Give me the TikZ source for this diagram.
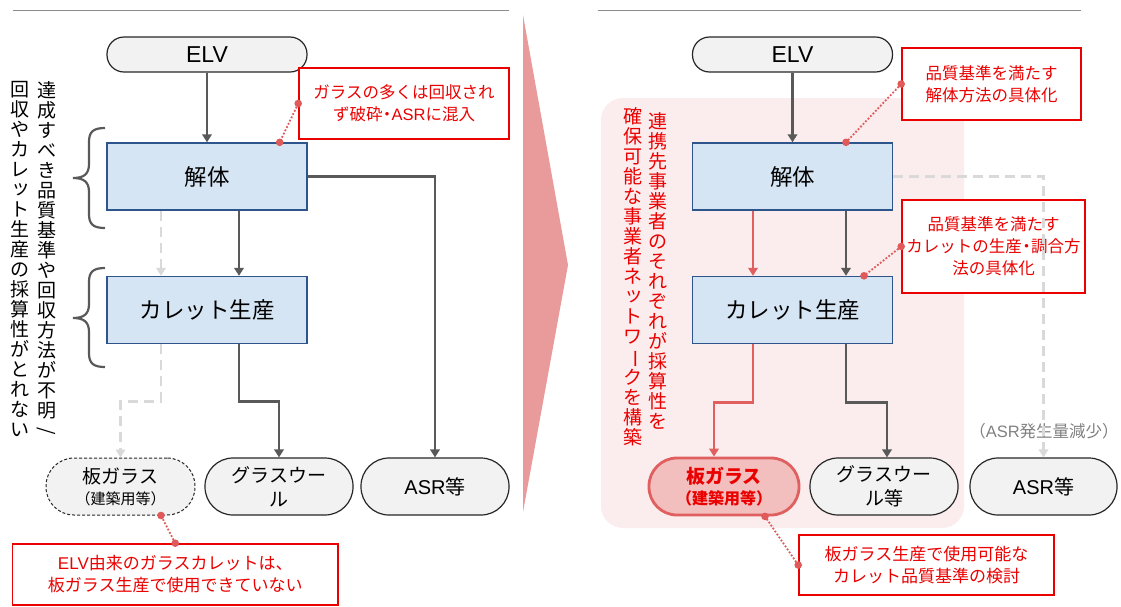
\documentclass[tikz,border=0pt]{standalone}
\usepackage{fontspec}
\setmainfont{Noto Sans CJK JP}
\newfontfamily\lat{Liberation Sans}
\usepackage{graphicx}
\usetikzlibrary{arrows.meta}

\definecolor{linegray}{RGB}{140,140,140}
\definecolor{arrowgray}{RGB}{89,89,89}
\definecolor{dashgray}{RGB}{217,217,217}
\definecolor{boxblue}{RGB}{214,229,243}
\definecolor{boxborder}{RGB}{46,84,140}
\definecolor{nodegray}{RGB}{242,242,242}
\definecolor{nodeborder}{RGB}{38,38,38}
\definecolor{callred}{RGB}{235,0,0}
\definecolor{dotred}{RGB}{224,90,90}
\definecolor{tri}{RGB}{233,155,155}
\definecolor{bgpink}{RGB}{251,236,237}
\definecolor{platefill}{RGB}{242,190,190}
\definecolor{plateborder}{RGB}{224,96,96}
\definecolor{notegray}{RGB}{128,128,128}

\newcommand{\fs}[2]{\fontsize{#1pt}{#2pt}\selectfont}
\newcommand{\vrot}[1]{\rotatebox[origin=c]{-90}{#1}}
\newcommand{\sk}[1]{\makebox[1em][c]{\hspace{0.2em}\raisebox{0.1em}{#1}}}
\newcommand{\nd}{\makebox[0.55em][c]{・}}

\begin{document}
\begin{tikzpicture}[x=1pt,y=-1pt,
  procbox/.style={draw=boxborder, fill=boxblue, line width=1.4pt, minimum width=200pt, minimum height=67pt, inner sep=0pt, font=\fs{22.5}{26}},
  startnode/.style={draw=nodeborder, fill=nodegray, line width=1.2pt, rounded corners=17pt, minimum width=200pt, minimum height=35pt, inner sep=0pt, font=\lat\fs{23}{26}},
  endnode/.style={draw=nodeborder, fill=nodegray, line width=1.2pt, rounded corners=28pt, minimum width=148pt, minimum height=57pt, inner sep=0pt, align=center, font=\fs{19}{24}},
  callout/.style={draw=callred, fill=white, line width=1.6pt, inner sep=0pt, align=center, text=callred, font=\fs{16.5}{22}},
  flow/.style={draw=arrowgray, line width=2.8pt, -{Triangle[width=9.5pt,length=8pt]}},
  ghost/.style={draw=dashgray, line width=2.8pt, dash pattern=on 10pt off 6pt, -{Triangle[width=9.5pt,length=8pt]}},
  redflow/.style={draw=plateborder, line width=2.8pt, -{Triangle[width=9.5pt,length=8pt]}},
  pin/.style={draw=dotred, line width=1.8pt, dash pattern=on 1.8pt off 1.8pt},
  vtext/.style={anchor=north, inner sep=0pt, align=center, font=\fs{19}{20}},
]
\useasboundingbox (0,0) rectangle (1121,606);

% rules and central chevron
\draw[linegray, line width=1pt] (12.5,10) -- (509,10);
\draw[linegray, line width=1pt] (597.5,10) -- (1081,10);
\fill[tri] (523,15) -- (568,265) -- (523,512) -- cycle;

% pink background (right)
\fill[bgpink, rounded corners=22pt] (601,98) rectangle (964,528);

% ================= LEFT PANEL =================
\node[startnode] (elvL) at (207,54.5) {ELV};
\node[procbox] (kaiL) at (207,176.5) {解体};
\node[procbox] (curL) at (207,310) {カレット生産};
\node[endnode, dash pattern=on 3pt off 2pt, line width=1pt, minimum width=149pt] (plateL) at (120.5,486.5) {板ガラス\\[-3pt]{\fs{15}{18}（建築用等）}};
\node[endnode] (gwL) at (279,486.5) {グラスウー\\ル};
\node[endnode, font=\fs{20}{24}] (asrL) at (435,486.5) {{\lat ASR}等};

\node[callout, minimum width=210pt, minimum height=71pt] (c1) at (404,103.5) {ガラスの多くは回収され\\ず破砕\nd{\lat ASR}に混入};
\node[callout, minimum width=325.5pt, minimum height=61pt, font=\fs{17}{22}] (c2) at (175.25,574.5) {{\lat ELV}由来のガラスカレットは、\\板ガラス生産で使用できていない};

\draw[flow] (elvL) -- (kaiL);
\draw[ghost] ([xshift=-46pt]kaiL.south) -- ([xshift=-46pt]curL.north);
\draw[flow] ([xshift=32pt]kaiL.south) -- ([xshift=32pt]curL.north);
\draw[flow] (kaiL.east) -| (asrL.north);
\draw[flow] ([xshift=32pt]curL.south) -- ++(0,57) -| (gwL.north);
\draw[ghost] ([xshift=-46pt]curL.south) -- ++(0,57) -| (plateL.north);

\draw[pin] (c1.west) -- ([xshift=-28pt]kaiL.north east);
\fill[dotred] (c1.west) circle (3.8pt);
\fill[dotred] ([xshift=-28pt]kaiL.north east) circle (3.8pt);
\draw[pin] (c2.north) -- ([xshift=40.5pt]plateL.south);
\fill[dotred] (c2.north) circle (3.8pt);
\fill[dotred] ([xshift=40.5pt]plateL.south) circle (3.8pt);

% braces
\draw[arrowgray, line width=2.2pt] (105,128) .. controls (93,128) and (89,132) .. (89,142) -- (89,164) .. controls (89,174) and (84,178) .. (73,178) .. controls (84,178) and (89,182) .. (89,192) -- (89,214) .. controls (89,224) and (93,228) .. (105,228);
\draw[arrowgray, line width=2.2pt] (105,268) .. controls (93,268) and (89,272) .. (89,282) -- (89,304) .. controls (89,314) and (84,318) .. (73,318) .. controls (84,318) and (89,322) .. (89,332) -- (89,353) .. controls (89,363) and (93,367) .. (105,367);

% vertical texts (left)
\node[vtext] (vt1) at (46.5,81) {達\\成\\す\\べ\\き\\品\\質\\基\\準\\や\\回\\収\\方\\法\\が\\不\\明\\\vrot{/}};
\node[vtext] (vt2) at (19.5,81) {回\\収\\や\\カ\\レ\\\sk{ッ}\\ト\\生\\産\\の\\採\\算\\性\\が\\と\\れ\\な\\い};

% ================= RIGHT PANEL =================
\node[startnode] (elvR) at (792.5,54.5) {ELV};
\node[procbox] (kaiR) at (792.5,176.5) {解体};
\node[procbox] (curR) at (792.5,310) {カレット生産};
\node[endnode, fill=platefill, draw=plateborder, line width=2.8pt, minimum width=150pt, text=callred, font=\bfseries\fs{19}{24}] (plateR) at (724,486.5) {板ガラス\\[-3pt]{\fs{16}{18}（建築用等）}};
\node[endnode] (gwR) at (884,486.5) {グラスウー\\ル等};
\node[endnode, font=\fs{20}{24}, minimum width=147pt] (asrR) at (1043.5,486.5) {{\lat ASR}等};
\node[text=notegray, font=\fs{16.5}{18}, inner sep=0pt] (asrnote) at (1044,431) {（{\lat ASR}発生量減少）};

\node[callout, minimum width=179pt, minimum height=72pt] (cA) at (991.5,84) {品質基準を満たす\\解体方法の具体化};
\node[callout, minimum width=183pt, minimum height=93pt] (cB) at (993.5,246.5) {品質基準を満たす\\カレットの生産\nd 調合方\\法の具体化};
\node[callout, minimum width=255pt, minimum height=60pt, font=\fs{17}{22}] (cC) at (926.5,565) {板ガラス生産で使用可能な\\カレット品質基準の検討};

\draw[flow] (elvR) -- (kaiR);
\draw[redflow] ([xshift=-39.5pt]kaiR.south) -- ([xshift=-39.5pt]curR.north);
\draw[flow] ([xshift=53.5pt]kaiR.south) -- ([xshift=53.5pt]curR.north);
\draw[ghost] (kaiR.east) -| (asrR.north);
\draw[redflow] ([xshift=-39.5pt]curR.south) -- ++(0,58) -| ([xshift=-10pt]plateR.north);
\draw[flow] ([xshift=53.5pt]curR.south) -- ++(0,58) -| ([xshift=3pt]gwR.north);

\draw[pin] (cA.west) -- ([xshift=53.5pt]kaiR.north);
\fill[dotred] (cA.west) circle (3.8pt);
\fill[dotred] ([xshift=53.5pt]kaiR.north) circle (3.8pt);
\draw[pin] (cB.west) -- ([xshift=71.5pt]curR.north);
\fill[dotred] (cB.west) circle (3.8pt);
\fill[dotred] ([xshift=71.5pt]curR.north) circle (3.8pt);
\draw[pin] (cC.west) -- ([xshift=41pt]plateR.south);
\fill[dotred] (cC.west) circle (3.8pt);
\fill[dotred] ([xshift=41pt]plateR.south) circle (3.8pt);

% vertical texts (right)
\node[vtext, text=callred] (vt3) at (658,112) {連\\携\\先\\事\\業\\者\\の\\そ\\れ\\ぞ\\れ\\が\\採\\算\\性\\を};
\node[vtext, text=callred] (vt4) at (632.5,107) {確\\保\\可\\能\\な\\事\\業\\者\\ネ\\\sk{ッ}\\ト\\ワ\\\vrot{ー}\\ク\\を\\構\\築};
\end{tikzpicture}
\end{document}
